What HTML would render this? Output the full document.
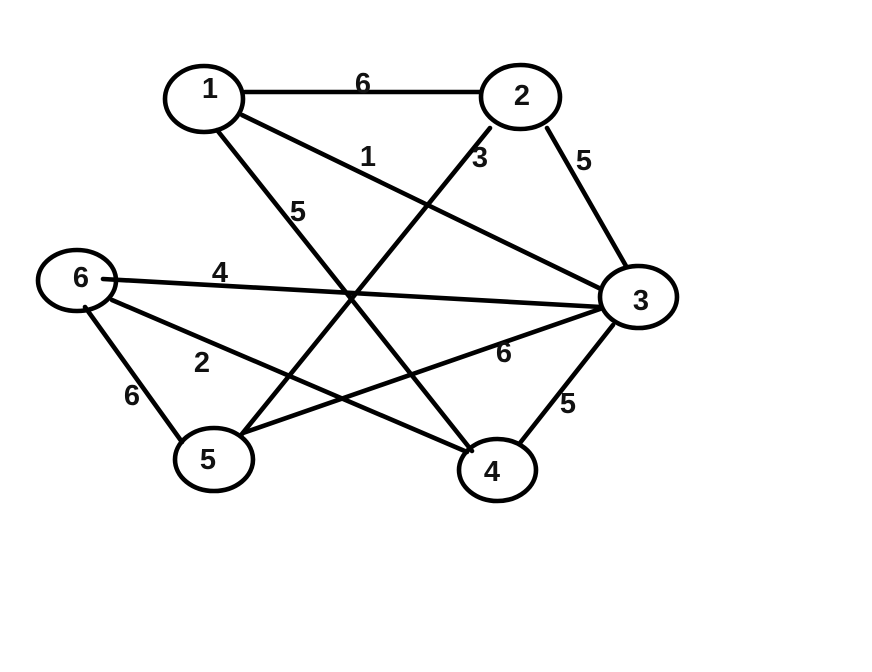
<!DOCTYPE html>
<html>
<head>
<meta charset="utf-8">
<style>
  html, body { margin: 0; padding: 0; background: #fff; }
  svg { display: block; }
  text { font-family: "Liberation Sans", "DejaVu Sans", sans-serif; font-weight: bold; font-size: 29px; fill: #111; }
</style>
</head>
<body>
<svg width="872" height="672" viewBox="0 0 872 672" xmlns="http://www.w3.org/2000/svg">
  <rect width="872" height="672" fill="#fff"/>
  <g stroke="#000" stroke-width="4.6" fill="none" stroke-linecap="round">
    <!-- edges -->
    <line x1="245" y1="92" x2="480" y2="92"/>
    <line x1="242" y1="115" x2="601" y2="289"/>
    <line x1="217" y1="130" x2="472" y2="451"/>
    <line x1="490" y1="128" x2="242" y2="434"/>
    <line x1="547" y1="128" x2="626" y2="266"/>
    <line x1="103" y1="279" x2="601" y2="307"/>
    <line x1="112" y1="300" x2="467" y2="452"/>
    <line x1="85" y1="307" x2="182" y2="442"/>
    <line x1="243" y1="433" x2="600" y2="309"/>
    <line x1="613" y1="325" x2="520" y2="443"/>
    <!-- nodes -->
    <ellipse cx="204" cy="99" rx="39" ry="33"/>
    <ellipse cx="520.5" cy="97" rx="39.5" ry="32"/>
    <ellipse cx="77" cy="280.5" rx="39" ry="30.5"/>
    <ellipse cx="214" cy="459.5" rx="39" ry="31.5"/>
    <ellipse cx="638.5" cy="297" rx="38.5" ry="31"/>
    <ellipse cx="497.5" cy="470" rx="38.5" ry="31"/>
  </g>
  <g text-anchor="middle">
    <!-- node labels -->
    <text x="210" y="98">1</text>
    <text x="522" y="105">2</text>
    <text x="81" y="287">6</text>
    <text x="208" y="469">5</text>
    <text x="641" y="310">3</text>
    <text x="492" y="481">4</text>
    <!-- edge labels -->
    <text x="363" y="93">6</text>
    <text x="368" y="166">1</text>
    <text x="480" y="167">3</text>
    <text x="584" y="170">5</text>
    <text x="298" y="221">5</text>
    <text x="220" y="282">4</text>
    <text x="202" y="372">2</text>
    <text x="132" y="405">6</text>
    <text x="504" y="362">6</text>
    <text x="568" y="413">5</text>
  </g>
</svg>
</body>
</html>
